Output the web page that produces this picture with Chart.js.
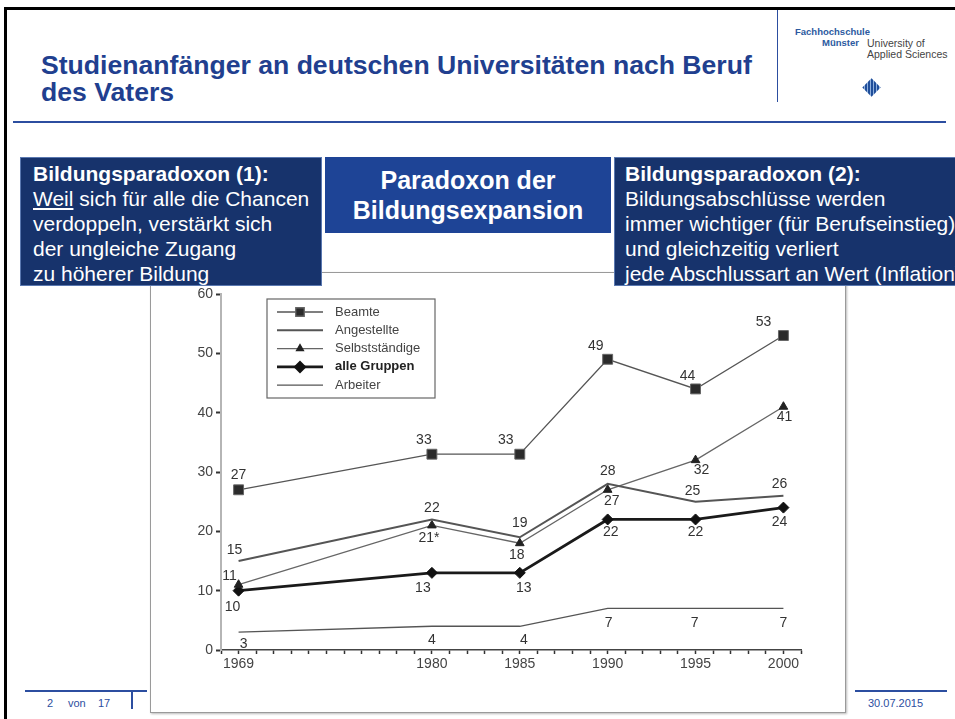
<!DOCTYPE html>
<html>
<head>
<meta charset="utf-8">
<script src="https://cdn.jsdelivr.net/npm/chart.js@4.4.1/dist/chart.umd.min.js"></script>
<style>
  body { margin: 0; width: 955px; height: 719px; overflow: hidden; background: #fff; position: relative;
         font-family: "Liberation Sans", Arial, sans-serif; }
  .abs { position: absolute; }
  .rahmenTop { left: 4px; top: 7px; width: 951px; height: 3px; background: #000; }
  .rahmenLinks { left: 4px; top: 7px; width: 3px; height: 712px; background: #000; }
  .titel { left: 41px; top: 52px; font-size: 26.6px; line-height: 27px; font-weight: bold; color: #213f8f; }
  .trenner { left: 777px; top: 10px; width: 1px; height: 92px; background: #2c4ea0; }
  .hlinie { left: 13px; top: 121px; width: 933px; height: 1.5px; background: #2c4ea0; }
  .logo { font-size: 9.5px; line-height: 10px; }
  .box { color: #fff; box-sizing: border-box; }
  .box1 { left: 20px; top: 157px; width: 302px; height: 129px; background: #17336c; border: 1px solid #5a78b0;
          font-size: 21px; line-height: 25px; padding: 3px 0 0 12px; z-index: 5; }
  .box2 { left: 325px; top: 157px; width: 286px; height: 76px; background: #1e4496; font-size: 25px; line-height: 30px;
          font-weight: bold; text-align: center; padding-top: 8px; z-index: 5; }
  .box3 { left: 614px; top: 157px; width: 360px; height: 129px; background: #17336c; border: 1px solid #5a78b0;
          font-size: 21px; line-height: 25px; padding: 3px 0 0 10px; white-space: nowrap; z-index: 5; }
  .frame { left: 150px; top: 272px; width: 696px; height: 441px; border: 1px solid #9a9a9a;
           box-shadow: 1px 1px 2px #bbb; box-sizing: border-box; background: #fff; }
  #chart { left: 151px; top: 273px; }
  .fuss { font-size: 11px; color: #2c4ea0; }
</style>
</head>
<body>
<div class="abs rahmenTop"></div>
<div class="abs rahmenLinks"></div>

<div class="abs titel">Studienanfänger an deutschen Universitäten nach Beruf<br>des Vaters</div>
<div class="abs trenner"></div>
<div class="abs hlinie"></div>

<div class="abs logo" style="left:795px;top:27px;color:#2c5aa0;font-weight:bold;">Fachhochschule</div>
<div class="abs logo" style="left:822px;top:38px;color:#2c5aa0;font-weight:bold;">Münster</div>
<div class="abs logo" style="left:867px;top:38px;color:#444;font-size:10.5px;">University of</div>
<div class="abs logo" style="left:867px;top:49px;color:#444;font-size:10.5px;">Applied Sciences</div>
<div class="abs" style="left:865px;top:81px;width:13px;height:13px;transform:rotate(45deg);
     background:repeating-linear-gradient(45deg,#1f4e9a 0 2px,#8fb0dd 2px 3px);"></div>

<div class="abs frame"></div>
<canvas id="chart" class="abs" width="694" height="439"></canvas>

<div class="abs box box1"><b>Bildungsparadoxon (1):</b><br><u>Weil</u> sich für alle die Chancen<br>verdoppeln, verstärkt sich<br>der ungleiche Zugang<br>zu höherer Bildung</div>
<div class="abs box box2">Paradoxon der<br>Bildungsexpansion</div>
<div class="abs box box3"><b>Bildungsparadoxon (2):</b><br>Bildungsabschlüsse werden<br>immer wichtiger (für Berufseinstieg)<br>und gleichzeitig verliert<br>jede Abschlussart an Wert (Inflation)</div>

<div class="abs" style="left:25px;top:690px;width:122px;height:1.5px;background:#2c4ea0;"></div>
<div class="abs fuss" style="left:47px;top:697px;">2</div>
<div class="abs fuss" style="left:68px;top:697px;">von</div>
<div class="abs fuss" style="left:98px;top:697px;">17</div>
<div class="abs" style="left:131px;top:691px;width:1.5px;height:18px;background:#2c4ea0;"></div>
<div class="abs" style="left:855px;top:690px;width:92px;height:1.5px;background:#2c4ea0;"></div>
<div class="abs fuss" style="left:868px;top:697px;">30.07.2015</div>

<script>
// Erhebungsjahre
const jahre = [1969, 1980, 1985, 1990, 1995, 2000];
const beschriftet = [1969, 1980, 1985, 1990, 1995, 2000];

// Studienanfänger in % je Beruf des Vaters
const beamte = [27, 33, 33, 49, 44, 53];
const angestellte = [15, 22, 19, 28, 25, 26];
const selbststaendige = [11, 21, 18, 27, 32, 41];
const alleGruppen = [10, 13, 13, 22, 22, 24];
const arbeiter = [3, 4, 4, 7, 7, 7];
const selbstFussnote = ['', '*', '', '', '', ''];

const yTicks = [0, 10, 20, 30, 40, 50, 60];

const punkte = werte => werte.map((v, i) => ({ x: jahre[i], y: v }));

const schrift = '"Liberation Sans", Arial, sans-serif';

// wo die Zahl neben dem Punkt steht [dx, dy]
const lagen = {
  Beamte:         [[0, -15], [-8, -14], [-14, -14], [-12, -13], [-8, -13], [-20, -13]],
  Angestellte:    [[-4, -11], [0, -11], [0, -14], [0, -13], [-3, -11], [-4, -12]],
  'Selbstständige': [[-9, -9], [-3, 13], [-3, 12], [4, 11], [6, 10], [1, 10]],
  'alle Gruppen': [[-6, 16], [-9, 15], [4, 15], [3, 13], [0, 13], [-4, 15]],
  Arbeiter:       [[5, 12], [0, 14], [4, 14], [1, 15], [-1, 15], [0, 15]]
};

const wertLabels = {
  id: 'wertLabels',
  afterDatasetsDraw(chart) {
    const ctx = chart.ctx;
    ctx.save();
    ctx.font = '14px ' + schrift;
    ctx.fillStyle = '#333';
    ctx.textAlign = 'center';
    ctx.textBaseline = 'middle';
    chart.data.datasets.forEach((ds, i) => {
      const meta = chart.getDatasetMeta(i);
      meta.data.forEach((pt, j) => {
        const [dx, dy] = lagen[ds.label][j];
        const txt = ds.data[j].y + (ds.fussnote ? ds.fussnote[j] : '');
        ctx.fillText(txt, pt.x + dx, pt.y + dy);
      });
    });
    ctx.restore();
  }
};

// Legende als Kasten im Diagramm
const kastenLegende = {
  id: 'kastenLegende',
  afterDraw(chart) {
    const ctx = chart.ctx;
    const a = chart.chartArea;
    const x0 = a.left + 46, y0 = a.top + 5;
    ctx.save();
    ctx.strokeStyle = '#666';
    ctx.lineWidth = 1.2;
    ctx.strokeRect(x0, y0, 168, 99);
    chart.data.datasets.forEach((ds, i) => {
      const y = y0 + 13 + i * 18.3;
      ctx.strokeStyle = ds.borderColor;
      ctx.lineWidth = ds.borderWidth;
      ctx.beginPath();
      ctx.moveTo(x0 + 10, y);
      ctx.lineTo(x0 + 56, y);
      ctx.stroke();
      if (ds.pointRadius > 0) {
        ctx.fillStyle = ds.pointBackgroundColor;
        ctx.strokeStyle = ds.pointBorderColor;
        Chart.helpers.drawPoint(ctx, {
          pointStyle: ds.pointStyle, radius: ds.pointRadius - 1, borderWidth: ds.pointBorderWidth, rotation: 0
        }, x0 + 33, y);
      }
      ctx.font = (ds.label === 'alle Gruppen' ? 'bold ' : '') + '13px ' + schrift;
      ctx.fillStyle = ds.label === 'alle Gruppen' ? '#222' : '#444';
      ctx.textBaseline = 'middle';
      ctx.fillText(ds.label, x0 + 68, y);
    });
    ctx.restore();
  }
};

new Chart(document.getElementById('chart'), {
  type: 'line',
  data: {
    datasets: [
      { label: 'Beamte', data: punkte(beamte), borderColor: '#555', borderWidth: 1.3,
        pointStyle: 'rect', pointRadius: 7, pointBackgroundColor: '#2b2b2b', pointBorderColor: '#666', pointBorderWidth: 1 },
      { label: 'Angestellte', data: punkte(angestellte), borderColor: '#555', borderWidth: 2, pointRadius: 0 },
      { label: 'Selbstständige', data: punkte(selbststaendige), fussnote: selbstFussnote, borderColor: '#666', borderWidth: 1.3,
        pointStyle: 'triangle', pointRadius: 5, pointBackgroundColor: '#222', pointBorderColor: '#222', pointBorderWidth: 1 },
      { label: 'alle Gruppen', data: punkte(alleGruppen), borderColor: '#1a1a1a', borderWidth: 2.8,
        pointStyle: 'rectRot', pointRadius: 5.5, pointBackgroundColor: '#111', pointBorderColor: '#111', pointBorderWidth: 1 },
      { label: 'Arbeiter', data: punkte(arbeiter), borderColor: '#555', borderWidth: 1.3, pointRadius: 0 }
    ]
  },
  options: {
    responsive: false,
    animation: false,
    layout: { padding: { top: 21, right: 44, left: 0, bottom: 0 } },
    plugins: { legend: { display: false }, tooltip: { enabled: false } },
    elements: { line: { tension: 0 } },
    scales: {
      x: {
        type: 'linear', min: 1968, max: 2001,
        afterFit: s => { s.height = 62; },
        ticks: {
          stepSize: 1, autoSkip: false, maxRotation: 0, padding: 2,
          color: '#444', font: { size: 14, family: schrift },
          callback: v => beschriftet.includes(v) ? String(v) : ''
        },
        grid: { drawOnChartArea: false, drawTicks: true, tickLength: 4, tickColor: '#333', tickWidth: 1.5 },
        border: { display: true, color: '#444', width: 1.5 }
      },
      y: {
        min: 0, max: 60,
        afterFit: s => { s.width = 70; },
        afterBuildTicks: s => { s.ticks = yTicks.map(v => ({ value: v })); },
        ticks: { padding: 3, color: '#444', font: { size: 14, family: schrift } },
        grid: { drawOnChartArea: false, drawTicks: true, tickLength: 5, tickColor: '#333', tickWidth: 2 },
        border: { display: true, color: '#b5b5b5', width: 2 }
      }
    }
  },
  plugins: [wertLabels, kastenLegende]
});
</script>
</body>
</html>
